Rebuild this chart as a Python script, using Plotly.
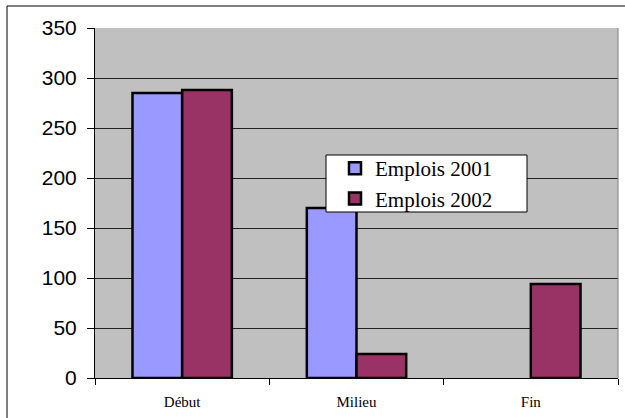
import plotly.graph_objects as go

categories = ["Début", "Milieu", "Fin"]
emplois_2001 = [285, 170, None]
emplois_2002 = [288, 24, 94]
y_ticks = [0, 50, 100, 150, 200, 250, 300, 350]

W, H = 625, 418
L, R, T, B = 95, 7, 28, 40
pw, ph = W - L - R, H - T - B


def px_x(x):
    return (x - L) / pw


def px_y(y):
    return (H - B - y) / ph


fig = go.Figure()
fig.add_trace(go.Bar(x=categories, y=emplois_2001, name="Emplois 2001",
                     marker=dict(color="#9999FF", line=dict(color="black", width=2.5))))
fig.add_trace(go.Bar(x=categories, y=emplois_2002, name="Emplois 2002",
                     marker=dict(color="#993366", line=dict(color="black", width=2.5))))

fig.update_layout(
    width=W, height=H,
    margin=dict(l=L, r=R, t=T, b=B),
    paper_bgcolor="white",
    plot_bgcolor="#C0C0C0",
    barmode="group",
    bargap=0.43,
    bargroupgap=0,
    showlegend=True,
    legend=dict(
        x=px_x(335), y=px_y(148), xanchor="left", yanchor="top",
        bgcolor="rgba(0,0,0,0)", borderwidth=0,
        font=dict(family="Liberation Serif", size=21, color="black"),
        tracegroupgap=0, itemwidth=30,
    ),
    xaxis=dict(
        showgrid=False, showline=True, linecolor="black", linewidth=1,
        ticks="outside", tickson="boundaries", ticklen=6, tickcolor="black",
        ticklabelstandoff=10,
        tickfont=dict(family="Liberation Serif", size=15, color="black"),
        fixedrange=True,
    ),
    yaxis=dict(
        range=[0, 350], tickvals=y_ticks, showgrid=True, gridcolor="#222222", gridwidth=1,
        showline=True, linecolor="black", linewidth=1, zeroline=False,
        ticks="outside", ticklen=7, tickcolor="black", ticklabelstandoff=6,
        tickfont=dict(family="Liberation Sans", size=21, color="black"),
    ),
    shapes=[
        dict(type="rect", xref="paper", yref="paper",
             x0=px_x(7), x1=px_x(640), y0=px_y(440), y1=px_y(6),
             line=dict(color="black", width=1), fillcolor="rgba(0,0,0,0)", layer="below"),
        dict(type="line", xref="paper", yref="paper", x0=1, x1=1, y0=0, y1=1,
             line=dict(color="#808080", width=1)),
        dict(type="rect", xref="paper", yref="paper",
             x0=px_x(326), x1=px_x(527), y0=px_y(212), y1=px_y(155),
             line=dict(color="black", width=1), fillcolor="white", layer="above"),
    ],
)

fig.write_html("out.html", config={"displayModeBar": False},
               post_script="document.body.style.margin='0';document.body.style.padding='0';")
